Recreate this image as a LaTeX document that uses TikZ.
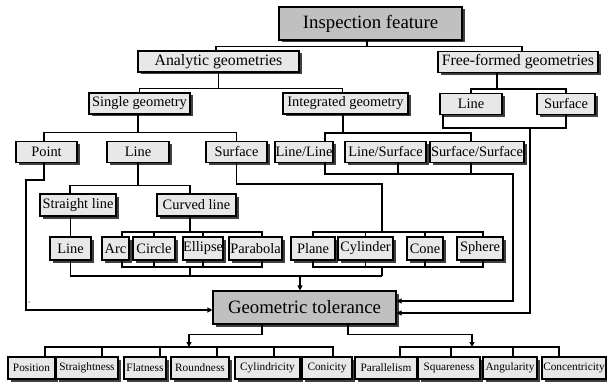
\documentclass[tikz,border=0pt]{standalone}
\usepackage{fontspec}
\setmainfont{Liberation Serif}
\usetikzlibrary{shadows,arrows.meta}
\definecolor{boxfill}{HTML}{E8E8E8}
\definecolor{darkfill}{HTML}{C0C0C0}
\begin{document}
\begin{tikzpicture}[x=1pt,y=-1pt,
  line width=1.1pt,
  base/.style={draw=black, line width=1.1pt, inner sep=0pt, fill=boxfill,
    drop shadow={shadow xshift=2.5pt, shadow yshift=-2.5pt, fill=black!75, opacity=1}},
  topbox/.style={base, fill=darkfill, minimum height=33pt, font=\fontsize{18.8}{20}\selectfont},
  lvltwo/.style={base, minimum height=21pt, font=\fontsize{15.8}{17}\selectfont},
  midbox/.style={base, minimum height=21pt, font=\fontsize{14.4}{16}\selectfont},
  lowbox/.style={base, minimum height=23pt, font=\fontsize{14.4}{16}\selectfont},
  botbox/.style={base, minimum height=22pt, font=\fontsize{11.3}{13}\selectfont},
  arr/.style={-{Triangle[length=5pt,width=5pt]}}]
\useasboundingbox (0,0) rectangle (607,382);

% ---- nodes ----
\node[topbox, minimum width=183pt] (insp) at (370.5,23.5) {Inspection feature};
\node[lvltwo, minimum width=161pt] (ana) at (218.5,61.5) {Analytic geometries};
\node[lvltwo, minimum width=160pt] (free) at (518,62) {Free-formed geometries};

\node[midbox, minimum width=101pt] (sg) at (139.5,103.5) {Single geometry};
\node[midbox, minimum width=125pt] (ig) at (345.5,103.5) {Integrated geometry};
\node[midbox, minimum width=62pt] (fl) at (471,104) {Line};
\node[midbox, minimum width=58pt] (fs) at (566,104) {Surface};

\node[midbox, minimum width=61pt] (pt) at (46.5,152) {Point};
\node[midbox, minimum width=62pt] (ln) at (138,152) {Line};
\node[midbox, minimum width=61pt] (sf) at (236.5,152) {Surface};
\node[midbox, minimum width=58pt] (ll) at (304,152) {Line/Line};
\node[midbox, minimum width=81pt] (ls) at (385.5,152) {Line/Surface};
\node[midbox, minimum width=94pt] (ss) at (477,152) {Surface/Surface};

\node[midbox, minimum width=76pt, minimum height=22pt] (stl) at (78,205) {Straight line};
\node[midbox, minimum width=79pt, minimum height=22pt] (cvl) at (196.5,205) {Curved line};

\node[lowbox, minimum width=41pt] (sline) at (70.5,248.5) {Line};
\node[lowbox, minimum width=27pt] (arc) at (115.5,248.5) {Arc};
\node[lowbox, minimum width=42pt] (cir) at (154,248.5) {Circle};
\node[lowbox, minimum width=40pt] (ell) at (203,248.5) {Ellipse};
\node[lowbox, minimum width=53pt] (par) at (255.5,248.5) {Parabola};
\node[lowbox, minimum width=44pt] (pla) at (313,248.5) {Plane};
\node[lowbox, minimum width=55pt] (cyl) at (365.5,248.5) {Cylinder};
\node[lowbox, minimum width=36pt] (con) at (425,248.5) {Cone};
\node[lowbox, minimum width=46pt] (sph) at (480,248.5) {Sphere};

\node[topbox, minimum width=183pt] (gt) at (304.5,307.5) {Geometric tolerance};

\node[botbox, minimum width=47pt] (pos) at (31.5,368) {Position};
\node[botbox, minimum width=62pt] (str) at (87,368) {Straightness};
\node[botbox, minimum width=42pt] (fla) at (145,368) {Flatness};
\node[botbox, minimum width=58pt] (rou) at (200,368) {Roundness};
\node[botbox, minimum width=65pt] (cyd) at (267.5,368) {Cylindricity};
\node[botbox, minimum width=50pt] (coni) at (327,368) {Conicity};
\node[botbox, minimum width=62pt] (prl) at (386,368) {Parallelism};
\node[botbox, minimum width=62pt] (squ) at (449,368) {Squareness};
\node[botbox, minimum width=54pt] (ang) at (510,368) {Angularity};
\node[botbox, minimum width=64pt] (conc) at (574,368) {Concentricity};

% ---- bend coordinates ----
\coordinate (c5) at (513,174);
\coordinate (c6) at (382,184);
\coordinate (c7) at (382,232);
\coordinate (c8) at (382,267);
\coordinate (c9) at (382,276);
\coordinate (c10) at (190,232);
\coordinate (c11) at (190,267);
\coordinate (c13) at (26,180);
\coordinate (c14) at (530,128);
\coordinate (c15) at (189,347);
\coordinate (c16) at (472,347);
\coordinate (gtin) at ([xshift=-4.5pt]gt.north);

% ---- connectors (top) ----
\draw ([xshift=-3.5pt]insp.south) -- ++(0,6) coordinate (b1);
\draw ([xshift=-2.5pt]ana.north) |- (b1) -| ([xshift=4pt]free.north);

\draw (ana.south) -- ++(0,16) coordinate (b2);
\draw (sg.north) |- (b2) -| ([xshift=-3pt]ig.north);

\draw ([xshift=-21pt]free.south) -- ++(0,16) coordinate (b3);
\draw (fl.north) |- (b3) -| (fs.north);

\draw ([xshift=-1.5pt]sg.south) -- ++(0,18) coordinate (b4);
\draw ([xshift=-2.5pt]pt.north) |- (b4) -| (sf.north);

\draw ([xshift=-2.5pt]ig.south) -- ++(0,18.5) coordinate (b4b);
\draw ([xshift=21pt]ll.north) |- (b4b) -| ([xshift=-6pt]ss.north);

% ---- integrated to tolerance ----
\draw[arr] ([xshift=21pt]ll.south) |- (c5) |- ([yshift=6.5pt]gt.east);
\draw ([xshift=12.5pt]ls.south) -- ([xshift=12.5pt]ls.south |- c5);
\draw ([xshift=-6pt]ss.south) -- ([xshift=-6pt]ss.south |- c5);

% ---- free-formed to tolerance ----
\draw ([xshift=-28pt]fl.south) |- (c14) -| (fs.south);
\draw[arr] (c14) |- ([yshift=-5.5pt]gt.east);

% ---- point to tolerance ----
\draw[arr] ([xshift=-2.5pt]pt.south) |- (c13) |- ([yshift=-2.5pt]gt.west);
\fill (29,302) circle (0.7pt);

% ---- line branch ----
\draw (ln.south) -- ++(0,22) coordinate (c12);
\draw ([xshift=-8pt]stl.north) |- (c12) -| ([xshift=-6.5pt]cvl.north);
\draw (sline.north) -- (sline.north |- stl.south);

\draw ([xshift=-6.5pt]cvl.south) -- (c10);
\draw ([xshift=6.5pt]arc.north) |- (c10) -| ([xshift=6.5pt]par.north);
\draw (cir.north) -- (cir.north |- c10);
\draw (ell.north) -- (ell.north |- c10);
\draw ([xshift=6.5pt]arc.south) |- (c11) -| ([xshift=6.5pt]par.south);
\draw (cir.south) -- (cir.south |- c11);
\draw (ell.south) -- (ell.south |- c11);
\draw (c11) -- (c11 |- c9);

% ---- surface branch ----
\draw (sf.south) |- (c6) -- (c7);
\draw (pla.north) |- (c7) -| ([xshift=3pt]sph.north);
\draw (cyl.north) -- (cyl.north |- c7);
\draw (con.north) -- (con.north |- c7);
\draw (pla.south) |- (c8) -| ([xshift=3pt]sph.south);
\draw (cyl.south) -- (cyl.south |- c8);
\draw (con.south) -- (con.south |- c8);
\draw (c8) -- (c9);

% ---- collector into tolerance ----
\draw (sline.south) |- (c9);
\draw[arr] (gtin |- c9) -- (gtin);

% ---- tolerance to types ----
\draw[arr] ([xshift=-42.5pt]gt.south) -- ++(0,10) -| (c15);
\draw[arr] ([xshift=43.5pt]gt.south) -- ++(0,10) -| (c16);

\draw ([xshift=13.5pt]pos.north) |- (c15) -| ([xshift=6pt]coni.north);
\draw ([xshift=15pt]str.north) -- ([xshift=15pt]str.north |- c15);
\draw ([xshift=15pt]fla.north) -- ([xshift=15pt]fla.north |- c15);
\draw ([xshift=17pt]rou.north) -- ([xshift=17pt]rou.north |- c15);
\draw ([xshift=6.5pt]cyd.north) -- ([xshift=6.5pt]cyd.north |- c15);

\draw ([xshift=14pt]prl.north) |- (c16) -| ([xshift=-15pt]conc.north);
\draw ([xshift=2pt]squ.north) -- ([xshift=2pt]squ.north |- c16);
\draw ([xshift=3pt]ang.north) -- ([xshift=3pt]ang.north |- c16);
\end{tikzpicture}
\end{document}
